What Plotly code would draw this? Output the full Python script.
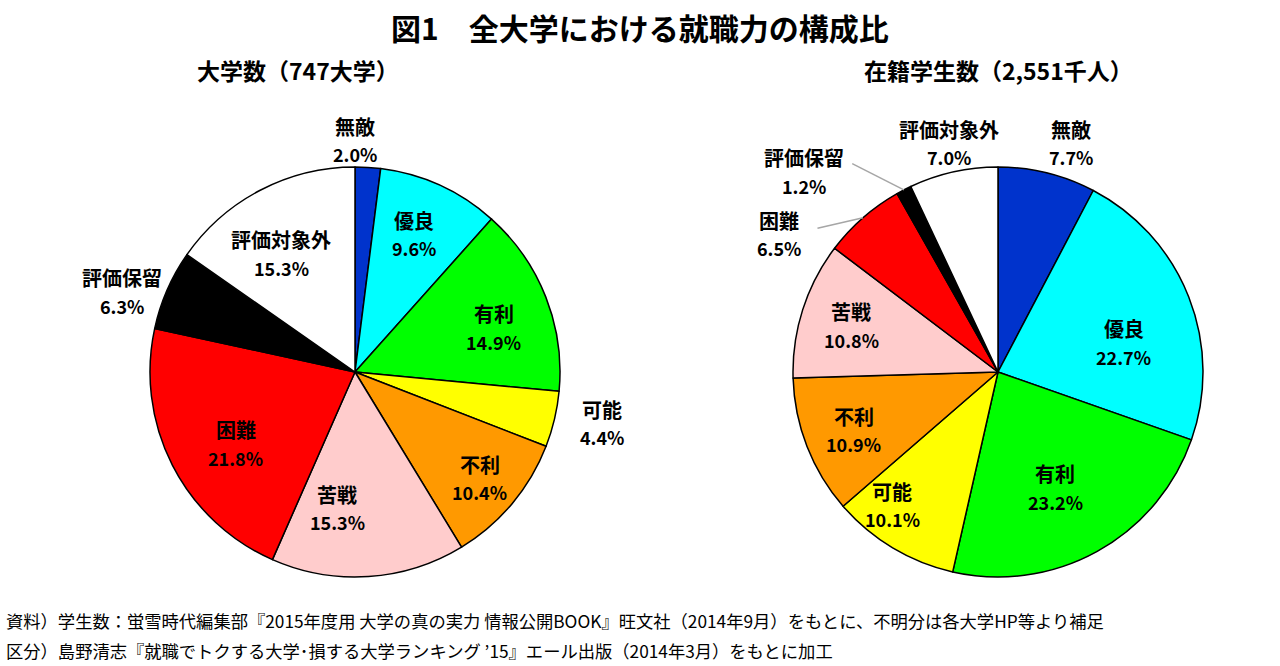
import math
import plotly.graph_objects as go

# ---------------- data ----------------
categories = ["無敵", "優良", "有利", "可能", "不利", "苦戦", "困難", "評価保留", "評価対象外"]
univ_share = [2.0, 9.6, 14.9, 4.4, 10.4, 15.3, 21.8, 6.3, 15.3]          # 大学数（747大学）
student_share = [7.7, 22.7, 23.2, 10.1, 10.9, 10.8, 6.5, 1.2, 7.0]      # 在籍学生数（2,551千人）

title_text = "図1　全大学における就職力の構成比"
left_title = "大学数（747大学）"
right_title = "在籍学生数（2,551千人）"
note_lines = [
    "資料）学生数：蛍雪時代編集部『2015年度用 大学の真の実力 情報公開BOOK』旺文社（2014年9月）をもとに、不明分は各大学HP等より補足",
    "区分）島野清志『就職でトクする大学･損する大学ランキング ’15』エール出版（2014年3月）をもとに加工",
]

# ---------------- style ----------------
colors = ["#0033CC", "#00FFFF", "#00FF00", "#FFFF00", "#FF9900",
          "#FFCCCC", "#FF0000", "#000000", "#FFFFFF"]
W, H = 1280, 666
R = 205
FONT = "Noto Sans CJK JP"
left_center = (355, 372)
right_center = (998, 372)

# label placement: radius factor and small angle nudge (deg)
left_lab_r = [1.13, 0.73, 0.71, 1.23, 0.80, 0.67, 0.68, 1.20, 0.68]
left_lab_dang = [-3.6, -1.3, 3.8, -1.6, 0.5, 11.3, -4.0, -4.6, -4.5]
right_lab_r = [1.17, 0.63, 0.63, 0.83, 0.76, 0.75, 1.26, 1.36, 1.14]
right_lab_dang = [3.8, 8.4, 2.6, 7.5, -0.7, -0.3, -16.6, -16.7, 0.6]
# leader line start offsets (px, relative to label centre); None = no leader
right_leader = [None, None, None, None, None, None, (38, -6), (48, -8), None]
left_leader = [None] * 9


def to_paper(px, py):
    return px / W, 1 - py / H


fig = go.Figure()
annotations = []
shapes = []


def add_pie(values, center, lab_r, lab_dang, leaders):
    cx, cy = center
    fig.add_trace(go.Pie(
        labels=categories, values=values, sort=False,
        direction="clockwise", rotation=0,
        marker=dict(colors=colors, line=dict(color="black", width=1.5)),
        textinfo="none", hoverinfo="label+value",
        showlegend=False,
        domain=dict(x=[(cx - R) / W, (cx + R) / W],
                    y=[1 - (cy + R) / H, 1 - (cy - R) / H]),
    ))
    total = sum(values)
    cum = 0.0
    for i, (name, v) in enumerate(zip(categories, values)):
        mid = (cum + v / 2) / total * 360
        cum += v
        a = math.radians(mid + lab_dang[i])
        lx = cx + lab_r[i] * R * math.sin(a)
        ly = cy - lab_r[i] * R * math.cos(a)
        px, py = to_paper(lx, ly)
        for txt, shift, size in ((name, 14, 20), (f"{v:.1f}%", -14, 18)):
            annotations.append(dict(
                x=px, y=py, xref="paper", yref="paper", text=txt,
                showarrow=False, xanchor="center", yanchor="middle", yshift=shift,
                font=dict(family=FONT, size=size, color="black", weight="bold"),
            ))
        if leaders[i] is not None:
            dx, dy = leaders[i]
            am = math.radians(mid)
            ex = cx + R * math.sin(am)
            ey = cy - R * math.cos(am)
            x0, y0 = to_paper(lx + dx, ly + dy)
            x1, y1 = to_paper(ex, ey)
            shapes.append(dict(type="line", xref="paper", yref="paper",
                               x0=x0, y0=y0, x1=x1, y1=y1,
                               line=dict(color="#A6A6A6", width=1.5)))


add_pie(univ_share, left_center, left_lab_r, left_lab_dang, left_leader)
add_pie(student_share, right_center, right_lab_r, right_lab_dang, right_leader)

# titles
annotations.append(dict(x=640 / W, y=1 - 27 / H, xref="paper", yref="paper", text=title_text,
                        showarrow=False, xanchor="center", yanchor="middle",
                        font=dict(family=FONT, size=30, color="black", weight="bold")))
annotations.append(dict(x=298 / W, y=1 - 70 / H, xref="paper", yref="paper", text=left_title,
                        showarrow=False, xanchor="center", yanchor="middle",
                        font=dict(family=FONT, size=23, color="black", weight="bold")))
annotations.append(dict(x=998 / W, y=1 - 70 / H, xref="paper", yref="paper", text=right_title,
                        showarrow=False, xanchor="center", yanchor="middle",
                        font=dict(family=FONT, size=23, color="black", weight="bold")))
for k, line in enumerate(note_lines):
    annotations.append(dict(x=4 / W, y=1 - (620 + 30 * k) / H, xref="paper", yref="paper",
                            text=line, showarrow=False, xanchor="left", yanchor="middle",
                            font=dict(family=FONT, size=17.3, color="black")))

fig.update_layout(
    width=W, height=H,
    margin=dict(l=0, r=0, t=0, b=0),
    paper_bgcolor="white", plot_bgcolor="white",
    showlegend=False,
    annotations=annotations, shapes=shapes,
)

fig.write_html("out.html")
